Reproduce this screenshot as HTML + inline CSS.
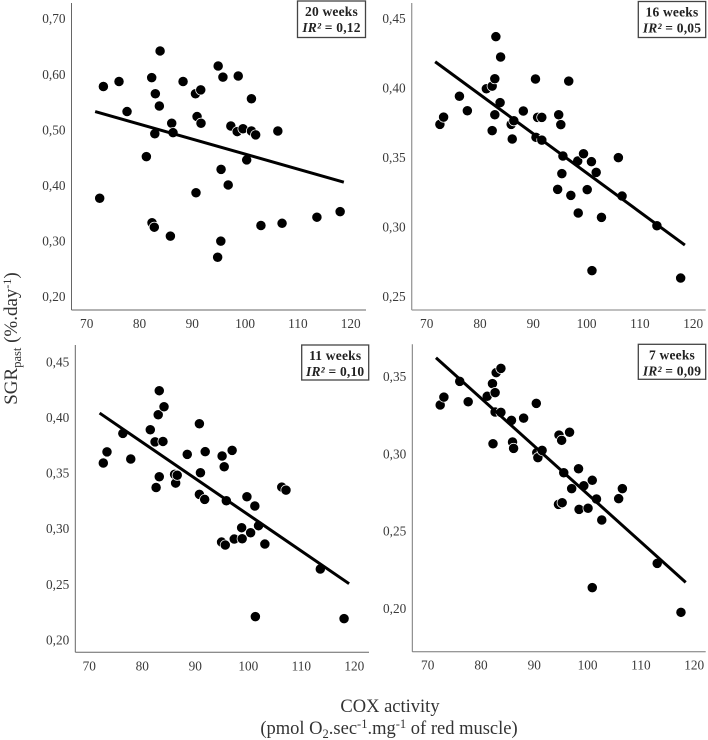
<!DOCTYPE html>
<html lang="en">
<head>
<meta charset="utf-8">
<title>SGR past vs COX activity</title>
<style>
html,body{margin:0;padding:0;background:#fff;width:708px;height:740px;overflow:hidden}
svg{display:block;filter:blur(0.35px)}
text{font-family:"Liberation Serif",serif}
</style>
</head>
<body>
<svg id="chart" width="708" height="740" viewBox="0 0 708 740" xmlns="http://www.w3.org/2000/svg">
  <rect x="0" y="0" width="708" height="740" fill="#fff"></rect>
  <text transform="translate(17,338.5) rotate(-90)" text-anchor="middle" font-size="19" fill="#333">SGR<tspan font-size="12.5" dy="4">past</tspan><tspan dy="-4"> (%.day</tspan><tspan font-size="12" dy="-6">-1</tspan><tspan dy="6">)</tspan></text>
  <text x="390" y="712" text-anchor="middle" font-size="18.5" fill="#333">COX activity</text>
  <text x="389" y="734" text-anchor="middle" font-size="18.5" fill="#333">(pmol O<tspan font-size="12.5" dy="4">2</tspan><tspan dy="-4">.sec</tspan><tspan font-size="12.5" dy="-6">-1</tspan><tspan dy="6">.mg</tspan><tspan font-size="12.5" dy="-6">-1</tspan><tspan dy="6"> of red muscle)</tspan></text>
</svg>
<script>
const xTickValues = [70, 80, 90, 100, 110, 120];

const titles = ['20 weeks', '16 weeks', '11 weeks', '7 weeks'];
const r2Values = ['0,12', '0,05', '0,10', '0,09'];

const yTicks20 = [0.20, 0.30, 0.40, 0.50, 0.60, 0.70];
const yTicks16 = [0.25, 0.30, 0.35, 0.40, 0.45];
const yTicks11 = [0.20, 0.25, 0.30, 0.35, 0.40, 0.45];
const yTicks7 = [0.20, 0.25, 0.30, 0.35];

const cox20 = [72.46,73.16,76.12,77.64,81.3,82.31,82.37,82.8,82.9,83.0,83.76,83.9,85.85,86.1,86.35,88.25,90.6,90.7,90.9,91.6,91.65,94.8,94.9,95.4,95.45,95.8,96.8,97.3,98.5,98.7,99.6,100.3,101.2,101.2,102,103,106.2,107,113.6,118];
const sgr20 = [.377,.578,.587,.533,.452,.594,.333,.325,.493,.565,.543,.642,.309,.512,.495,.587,.565,.387,.524,.572,.512,.271,.615,.300,.429,.595,.401,.507,.497,.597,.502,.446,.498,.556,.491,.328,.498,.332,.343,.353];

const cox16 = [72.5,73.2,76.2,77.7,81.3,82.4,82.4,82.9,82.9,83.1,83.9,84,86,86.2,86.5,88.3,90.6,90.7,91,91.8,91.8,94.8,95,95.4,95.6,95.8,96.9,97.3,98.6,98.7,99.7,100.4,101.2,101.3,102.1,103.1,106.3,107,113.6,118.1];
const sgr16 = [.3738,.379,.394,.3836,.3994,.4013,.3693,.3807,.4066,.4368,.3894,.4222,.3738,.3633,.3764,.3834,.4064,.3645,.3788,.3788,.3625,.3271,.3807,.3736,.3384,.3511,.4049,.3228,.3475,.3101,.3527,.3269,.347,.2687,.3393,.307,.3499,.3223,.301,.2634];

const cox11 = [72.5,73.2,76.2,77.7,81.4,82.3,82.5,82.9,83.1,83.1,83.8,84,86,86.2,86.5,88.4,90.7,90.7,90.9,91.7,91.8,94.9,95,95.4,95.6,95.8,96.9,97.3,98.7,98.8,99.7,100.4,101.2,101.3,101.9,103.1,106.3,107.1,113.6,118.1];
const sgr11 = [.359,.369,.3856,.3626,.3889,.378,.337,.4024,.3467,.424,.3784,.4096,.3488,.341,.348,.3668,.3943,.3308,.3503,.3263,.3692,.288,.3653,.3557,.2853,.3251,.3704,.2907,.3009,.291,.3287,.2964,.3204,.221,.3027,.2862,.3374,.3347,.2638,.2192];

const cox7 = [72.5,73.2,76.2,77.8,81.4,82.4,82.5,82.9,82.9,83.1,84,84,86,86.2,86.4,88.3,90.7,90.8,91,91.8,94.9,95,95.5,95.6,95.9,97,97.4,98.7,98.8,99.7,100.5,101.3,101.3,102.1,103.1,106.3,107,113.6,118.1];
const sgr7 = [.3317,.3368,.347,.3338,.3373,.3455,.3066,.3397,.3271,.3526,.3269,.3554,.3217,.3077,.3036,.3232,.3327,.3008,.2976,.3023,.2673,.3122,.3088,.2684,.2878,.314,.2775,.2904,.2641,.2794,.2648,.2829,.2134,.2708,.2572,.271,.2775,.2291,.1974];

const fitX20 = [71.6, 118.7];
const fitY20 = [.533, .406];
const fitX16 = [71.6, 118.9];
const fitY16 = [.4188, .2871];
const fitX11 = [71.8, 119.05];
const fitY11 = [.4039, .2506];
const fitX7 = [71.7, 119];
const fitY7 = [.3623, .2168];

const svg = document.getElementById('chart');
const NS = 'http://www.w3.org/2000/svg';

function make(tag, attrs, parent) {
  const el = document.createElementNS(NS, tag);
  for (const k in attrs) el.setAttribute(k, attrs[k]);
  parent.appendChild(el);
  return el;
}

function drawPanel(p, i) {
  const xScale = v => p.x70 + (v - 70) * 5.28;
  const labelX = v => p.label70 + (v - 70) * p.labelStep;
  const yScale = v => p.yBase - (v - p.yBaseValue) * p.yPerUnit;

  const g = make('g', {}, svg);
  
  

  const yAxis = make('line', {x1: p.left, x2: p.left, y1: p.top, y2: p.bottom, stroke: p.axisColor, 'stroke-width': p.axisWidth}, g);
  
  

  const xAxis = make('line', {x1: p.left, x2: p.right, y1: p.bottom, y2: p.bottom, stroke: p.axisColor, 'stroke-width': p.axisWidth}, g);
  
  

  xTickValues.forEach(t => {
    const label = make('text', {x: labelX(t), y: p.bottom + 18, 'text-anchor': 'middle', 'font-size': 13.3, fill: '#3a3a3a'}, g);
    
    
    label.textContent = t;
  });

  p.yTicks.forEach(t => {
    const label = make('text', {x: p.left - 6, y: yScale(t) + 4.5, 'text-anchor': 'end', 'font-size': 13.3, fill: '#3a3a3a'}, g);
    
    
    label.textContent = t.toFixed(2).replace('.', ',');
  });

  p.xs.forEach((x, j) => {
    const dot = make('circle', {cx: xScale(x), cy: yScale(p.ys[j]), r: 5.1, fill: '#000', stroke: '#fff', 'stroke-width': 0.7}, g);
    
    
  });

  const fit = make('line', {
    x1: xScale(p.fitX[0]), y1: yScale(p.fitY[0]),
    x2: xScale(p.fitX[1]), y2: yScale(p.fitY[1]),
    stroke: '#000', 'stroke-width': 3
  }, g);
  
  

  const box = make('rect', {x: p.boxX, y: p.boxY, width: p.boxW, height: p.boxH, fill: '#fff', stroke: '#444', 'stroke-width': 1.3}, g);
  
  

  const cx = p.boxX + p.boxW / 2;
  const title = make('text', {x: cx, y: p.boxY + 15, 'text-anchor': 'middle', 'font-size': 13.5, 'font-weight': 'bold', 'letter-spacing': 0.2, fill: '#222'}, g);
  
  
  title.textContent = titles[i];

  const r2 = make('text', {x: cx, y: p.boxY + 31, 'text-anchor': 'middle', 'font-size': 13.5, 'font-weight': 'bold', 'letter-spacing': 0.2, fill: '#222'}, g);
  
  
  const ir = make('tspan', {'font-style': 'italic'}, r2);
  ir.textContent = 'IR²';
  const val = make('tspan', {}, r2);
  val.textContent = ' = ' + r2Values[i];
}

const panels = [
  {key: '20-weeks', xs: cox20, ys: sgr20, fitX: fitX20, fitY: fitY20, yTicks: yTicks20,
   x70: 86.7, label70: 86.7, labelStep: 5.28, yBase: 296.7, yBaseValue: 0.20, yPerUnit: 556,
   left: 71.5, right: 366, top: 3, bottom: 310, axisColor: '#666', axisWidth: 1,
   boxX: 297.5, boxY: 1, boxW: 68, boxH: 36.5},
  {key: '16-weeks', xs: cox16, ys: sgr16, fitX: fitX16, fitY: fitY16, yTicks: yTicks16,
   x70: 426.7, label70: 426.7, labelStep: 5.33, yBase: 296.7, yBaseValue: 0.25, yPerUnit: 1392,
   left: 411.7, right: 705.7, top: 3, bottom: 310, axisColor: '#999', axisWidth: 1.3,
   boxX: 638.3, boxY: 1.5, boxW: 67.4, boxH: 36},
  {key: '11-weeks', xs: cox11, ys: sgr11, fitX: fitX11, fitY: fitY11, yTicks: yTicks11,
   x70: 90.1, label70: 89.3, labelStep: 5.3, yBase: 640, yBaseValue: 0.20, yPerUnit: 1113,
   left: 75.3, right: 369, top: 345, bottom: 652.3, axisColor: '#666', axisWidth: 1,
   boxX: 301.7, boxY: 345, boxW: 67, boxH: 35},
  {key: '7-weeks', xs: cox7, ys: sgr7, fitX: fitX7, fitY: fitY7, yTicks: yTicks7,
   x70: 427, label70: 427.7, labelStep: 5.33, yBase: 608.3, yBaseValue: 0.20, yPerUnit: 1544,
   left: 412.3, right: 705.7, top: 344.3, bottom: 651.7, axisColor: '#777', axisWidth: 1,
   boxX: 638.3, boxY: 344.3, boxW: 67.4, boxH: 35}
];

panels.forEach(drawPanel);
</script>
</body>
</html>
